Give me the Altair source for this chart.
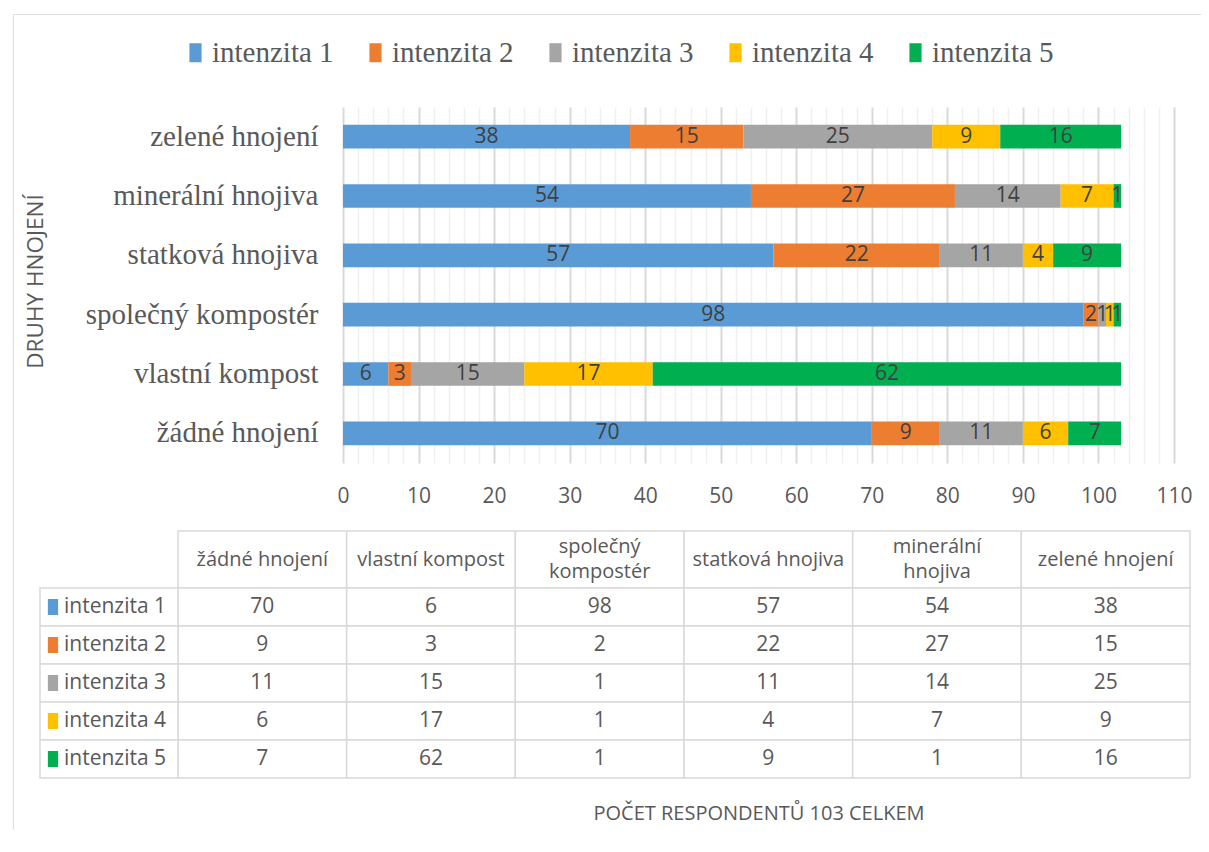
import altair as alt
import pandas as pd

# ---------------- data ----------------
categories = ["žádné hnojení", "vlastní kompost", "společný kompostér",
              "statková hnojiva", "minerální hnojiva", "zelené hnojení"]
series = ["intenzita 1", "intenzita 2", "intenzita 3", "intenzita 4", "intenzita 5"]
intenzita_1 = [70, 6, 98, 57, 54, 38]
intenzita_2 = [9, 3, 2, 22, 27, 15]
intenzita_3 = [11, 15, 1, 11, 14, 25]
intenzita_4 = [6, 17, 1, 4, 7, 9]
intenzita_5 = [7, 62, 1, 9, 1, 16]
colors = ["#5B9BD5", "#ED7D31", "#A5A5A5", "#FFC000", "#00B050"]
y_title = "DRUHY HNOJENÍ"
x_title = "POČET RESPONDENTŮ 103 CELKEM"
x_label_ticks = list(range(0, 111, 10))
x_grid_ticks = list(range(0, 111, 2))

rows = []
for si, (s, vals) in enumerate(zip(series, [intenzita_1, intenzita_2, intenzita_3, intenzita_4, intenzita_5])):
    for c, v in zip(categories, vals):
        rows.append({"kategorie": c, "intenzita": s, "pocet": v, "poradi": si})
df = pd.DataFrame(rows)
cat_df = pd.DataFrame({"kategorie": categories})
ser_df = pd.DataFrame({"intenzita": series})

# ---------------- layout (view coordinates) ----------------
W, H = 1200, 842
BAR_X = [330, 1161]
BAR_Y = [93, 449]
TAB_X = [165, 1177]
HDR_Y = [517, 574]
BODY_Y = [574, 764]
ROWHDR_X = [27, 165]

SANS = "Open Sans"
SERIF = "Liberation Serif"
GREY = "#595959"
DARK = "#404040"
RECT_PATH = "M-0.64,-1H0.64V1H-0.64Z"

color_scale = alt.Scale(domain=series, range=colors)

# ---------------- bars ----------------
base = alt.Chart(df).transform_stack(
    stack="pocet", groupby=["kategorie"], as_=["x0", "x1"],
    sort=[alt.SortField("poradi", order="ascending")]
)
xs = alt.Scale(domain=[0, 110], range=BAR_X, nice=False, zero=False)
ys = alt.Scale(type="band", domain=categories[::-1], range=BAR_Y,
               paddingInner=0.6, paddingOuter=0.3)

bars = base.mark_bar().encode(
    x=alt.X("x0:Q", scale=xs, axis=alt.Axis(
        orient="top", values=x_grid_ticks, grid=True, labels=False, ticks=False,
        domain=False, title=None,
        gridColor={"condition": {"test": "datum.value % 10 === 0", "value": "#d9d9d9"}, "value": "#f0f0f0"},
        gridWidth={"condition": {"test": "datum.value % 10 === 0", "value": 2}, "value": 1.5},
    )),
    x2="x1:Q",
    y=alt.Y("kategorie:N", scale=ys, axis=alt.Axis(
        orient="left", offset=-BAR_X[0], domain=False, ticks=False, tickSize=0, grid=False,
        labelFont=SERIF, labelFontSize=29, labelColor=GREY, labelPadding=25, labelLimit=400,
        title=y_title, titleFont=SANS, titleFontSize=22.5, titleFontWeight="normal",
        titleColor=GREY, titleX=-301, titleY=267, titleBaseline="alphabetic",
    )),
    color=alt.Color("intenzita:N", scale=color_scale, legend=alt.Legend(
        orient="none", legendX=168, legendY=24, direction="horizontal", title=None,
        symbolType=RECT_PATH, symbolSize=361, symbolStrokeWidth=0,
        labelFont=SERIF, labelFontSize=29, labelColor=GREY, labelLimit=300,
        columnPadding=27, labelOffset=2, padding=0,
    )),
)

labels = base.transform_calculate(mid="(datum.x0 + datum.x1) / 2").mark_text(
    font=SANS, fontSize=21, color=DARK
).encode(
    x=alt.X("mid:Q", scale=xs, axis=alt.Axis(
        orient="bottom", offset=BAR_Y[1] - H, values=x_label_ticks, grid=False,
        domain=False, ticks=False, tickSize=0, labelPadding=22, labelFlush=False,
        labelFont=SANS, labelFontSize=21, labelColor=GREY,
        title=x_title, titleFont=SANS, titleFontSize=20, titleFontWeight="normal",
        titleColor=GREY, titleY=350, titleBaseline="middle",
    )),
    y=alt.Y("kategorie:N", scale=ys, axis=None),
    text="pocet:Q",
)

bar_group = alt.layer(bars, labels).resolve_axis(x="independent", y="independent")

# ---------------- data table ----------------
tx = alt.Scale(type="band", domain=categories, range=TAB_X, paddingInner=0, paddingOuter=0)
hy = alt.Scale(type="band", domain=["záhlaví"], range=HDR_Y, paddingInner=0, paddingOuter=0)
by = alt.Scale(type="band", domain=series, range=BODY_Y, paddingInner=0, paddingOuter=0)
rx = alt.Scale(type="band", domain=["popisek"], range=ROWHDR_X, paddingInner=0, paddingOuter=0)
cell = dict(fill="white", stroke="#d9d9d9", strokeWidth=1.5)

hdr = alt.Chart(cat_df).transform_calculate(
    radek="'záhlaví'",
    popis="length(datum.kategorie) > 16 ? replace(datum.kategorie, ' ', '\\n') : datum.kategorie",
    zalom="length(datum.kategorie) > 16",
)
hdr_rect = hdr.mark_rect(**cell).encode(
    x=alt.X("kategorie:N", scale=tx, axis=None),
    y=alt.Y("radek:N", scale=hy, axis=None),
)
hdr_text1 = hdr.transform_filter("!datum.zalom").mark_text(
    font=SANS, fontSize=20, color=GREY
).encode(
    x=alt.X("kategorie:N", scale=tx, axis=None),
    y=alt.Y("radek:N", scale=hy, axis=None),
    text="popis:N",
)
hdr_text2 = hdr.transform_filter("datum.zalom").mark_text(
    font=SANS, fontSize=20, color=GREY, lineBreak="\n", lineHeight=25, dy=-12.5
).encode(
    x=alt.X("kategorie:N", scale=tx, axis=None),
    y=alt.Y("radek:N", scale=hy, axis=None),
    text="popis:N",
)

body_rect = alt.Chart(df).mark_rect(**cell).encode(
    x=alt.X("kategorie:N", scale=tx, axis=None),
    y=alt.Y("intenzita:N", scale=by, axis=None),
)
body_text = alt.Chart(df).mark_text(font=SANS, fontSize=21, color=GREY).encode(
    x=alt.X("kategorie:N", scale=tx, axis=None),
    y=alt.Y("intenzita:N", scale=by, axis=None),
    text="pocet:Q",
)

rh = alt.Chart(ser_df).transform_calculate(sloupec="'popisek'")
rh_rect = rh.mark_rect(**cell).encode(
    x=alt.X("sloupec:N", scale=rx, axis=None),
    y=alt.Y("intenzita:N", scale=by, axis=None),
)
rh_swatch = rh.mark_point(shape=RECT_PATH, filled=True, size=256, opacity=1, strokeWidth=0).encode(
    x=alt.X("sloupec:N", scale=rx, axis=None, bandPosition=0.094),
    y=alt.Y("intenzita:N", scale=by, axis=None),
    color=alt.Color("intenzita:N", scale=color_scale),
)
rh_text = rh.mark_text(font=SANS, fontSize=21, color=GREY, align="left").encode(
    x=alt.X("sloupec:N", scale=rx, axis=None, bandPosition=0.174),
    y=alt.Y("intenzita:N", scale=by, axis=None),
    text="intenzita:N",
)

chart = alt.layer(
    bar_group, hdr_rect, hdr_text1, hdr_text2, body_rect, body_text, rh_rect, rh_swatch, rh_text
).resolve_scale(
    x="independent", y="independent"
).properties(
    width=W, height=H,
    padding={"left": 5, "top": 6, "right": -12, "bottom": -26},
    autosize=alt.AutoSizeParams(type="none"),
).configure_view(
    stroke="#d9d9d9", strokeWidth=1
).configure(
    font=SANS
)

chart.save("out.html", embed_options={"renderer": "svg", "actions": False})
